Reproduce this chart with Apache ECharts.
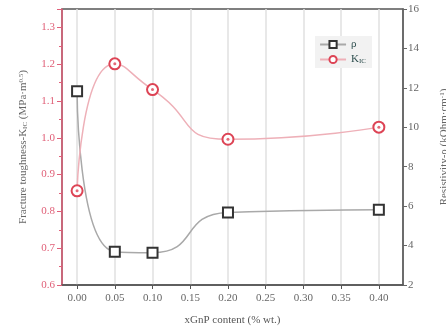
<!DOCTYPE html>
<html>
<head>
<meta charset="utf-8">
<script src="https://cdn.jsdelivr.net/npm/echarts@6/dist/echarts.min.js"></script>
<style>
  html, body { margin: 0; padding: 0; background: #fff; }
  #main { width: 446px; height: 332px; }
</style>
</head>
<body>
<div id="main"></div>
<script>
// xGnP content (% wt.)
var content = [0.00, 0.05, 0.10, 0.20, 0.40];
// resistivity rho, kOhm.cm-1 (right axis)
var rho = [11.83, 3.69, 3.64, 5.68, 5.82];
// fracture toughness K_IC, MPa.m^0.5 (left axis)
var kic = [0.856, 1.201, 1.131, 0.996, 1.029];
var xTicks = [0, 0.05, 0.1, 0.15, 0.2, 0.25, 0.3, 0.35, 0.4];

var font = '"Liberation Serif", "DejaVu Serif", serif';

function pairs(xs, ys) {
    return xs.map(function (x, i) { return [x, ys[i]]; });
}

var chart = echarts.init(document.getElementById('main'));
var option = {
    animation: false,
    textStyle: { fontFamily: font },
    grid: {
        left: 62, right: 43, top: 9, bottom: 47,
        outerBoundsMode: 'none', containLabel: false,
        show: true, borderColor: '#555', borderWidth: 1.5, backgroundColor: '#fff'
    },
    legend: {
        right: 74, top: 36,
        orient: 'vertical',
        itemWidth: 26, itemHeight: 9, itemGap: 4,
        backgroundColor: '#f2f2f2',
        padding: [3, 6, 3, 4],
        textStyle: {
            fontFamily: font, fontSize: 11, color: '#2f4f4f',
            rich: { sub: { fontSize: 7, verticalAlign: 'bottom', fontFamily: font, color: '#2f4f4f' } }
        },
        formatter: function (name) {
            return name === 'KIC' ? 'K{sub|IC}' : name;
        },
        data: ['ρ', 'KIC']
    },
    xAxis: {
        type: 'value',
        min: -0.02, max: 0.432,
        name: 'xGnP content (% wt.)',
        nameLocation: 'middle', nameGap: 30,
        nameTextStyle: { fontFamily: font, fontSize: 11, color: '#555' },
        axisLine: { onZero: false, lineStyle: { color: '#555', width: 1.5 } },
        axisTick: { customValues: xTicks, length: 4, lineStyle: { color: '#555' } },
        axisLabel: {
            customValues: xTicks, fontFamily: font, fontSize: 11, color: '#666', margin: 8,
            formatter: function (v) { return v.toFixed(2); }
        },
        splitLine: { show: true, lineStyle: { color: '#e0e0e0', width: 1.5 } }
    },
    yAxis: [{
        type: 'value',
        min: 0.6, max: 1.35, interval: 0.1,
        position: 'left',
        name: 'Fracture toughness-K{sub|IC} (MPa·m{sup|0.5})',
        nameLocation: 'middle', nameGap: 33, nameRotate: 90,
        nameTextStyle: {
            fontFamily: font, fontSize: 11, color: '#666',
            rich: {
                sub: { fontSize: 7, verticalAlign: 'bottom', color: '#666', fontFamily: font },
                sup: { fontSize: 7, verticalAlign: 'top', color: '#666', fontFamily: font }
            }
        },
        axisLine: { show: true, onZero: false, lineStyle: { color: '#e0607a', width: 1.5 } },
        axisTick: { show: true, length: 5, lineStyle: { color: '#e0607a' } },
        minorTick: { show: true, splitNumber: 2, length: 3, lineStyle: { color: '#e0607a' } },
        axisLabel: {
            fontFamily: font, fontSize: 11, color: '#e06078', margin: 7, showMaxLabel: false,
            formatter: function (v) { return v.toFixed(1); }
        },
        splitLine: { show: false }
    }, {
        type: 'value',
        min: 2, max: 16, interval: 2,
        position: 'right',
        name: 'Resistivity-ρ (kOhm·cm{sup|-1})',
        nameLocation: 'middle', nameGap: 36, nameRotate: 90,
        nameTextStyle: {
            fontFamily: font, fontSize: 11, color: '#666',
            rich: { sup: { fontSize: 7, verticalAlign: 'top', color: '#666', fontFamily: font } }
        },
        axisLine: { show: true, onZero: false, lineStyle: { color: '#666', width: 1.5 } },
        axisTick: { show: true, length: 4, lineStyle: { color: '#666' } },
        axisLabel: { fontFamily: font, fontSize: 11, color: '#666', margin: 5 },
        splitLine: { show: false }
    }],
    series: [{
        name: 'ρ',
        type: 'line',
        yAxisIndex: 1,
        smooth: 0.6,
        data: pairs(content, rho),
        symbol: 'rect', symbolSize: 10,
        lineStyle: { color: '#a9a9a9', width: 1.5 },
        itemStyle: { color: '#fff', borderColor: '#333', borderWidth: 2 },
        z: 3
    }, {
        name: 'KIC',
        type: 'line',
        yAxisIndex: 0,
        smooth: 0.6,
        data: pairs(content, kic),
        symbol: 'circle', symbolSize: 11,
        lineStyle: { color: '#eeb0b8', width: 1.5 },
        itemStyle: { color: '#fff', borderColor: '#dd4455', borderWidth: 2 },
        z: 3
    }, {
        name: 'KIC dot',
        type: 'scatter',
        yAxisIndex: 0,
        data: pairs(content, kic),
        symbol: 'circle', symbolSize: 3,
        itemStyle: { color: '#dd4455' },
        silent: true,
        z: 4
    }]
};
chart.setOption(option);
</script>
</body>
</html>
